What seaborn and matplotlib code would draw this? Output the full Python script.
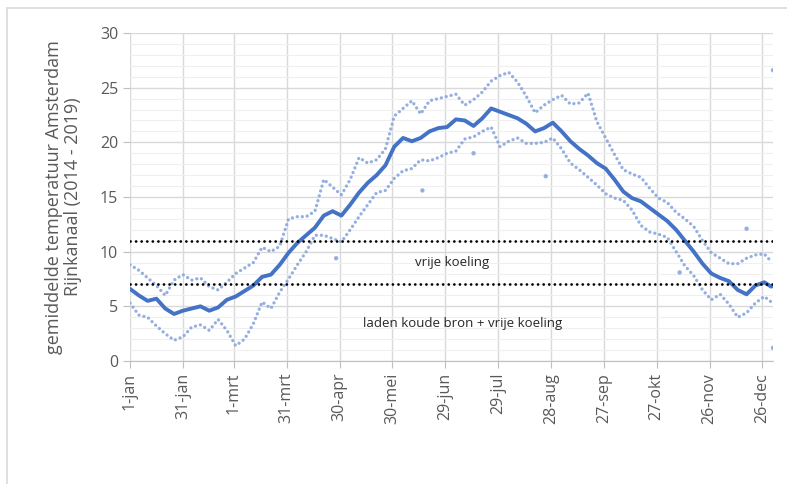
import matplotlib
matplotlib.use("Agg")
import matplotlib.pyplot as plt
import matplotlib.patches as mpatches
from matplotlib.ticker import MultipleLocator
import seaborn as sns
import pandas as pd

# day of year (0 = 1-jan), every 5 days
days = list(range(0, 365, 5)) + [364]

mean_temp = [6.6, 6.0, 5.5, 5.7, 4.8, 4.3, 4.6, 4.8, 5.0, 4.6,
             4.9, 5.6, 5.9, 6.4, 6.9, 7.7, 7.9, 8.8, 9.9, 10.8,
             11.5, 12.2, 13.3, 13.7, 13.3, 14.3, 15.4, 16.3, 17.0, 17.9,
             19.6, 20.4, 20.1, 20.4, 21.0, 21.3, 21.4, 22.1, 22.0, 21.5,
             22.2, 23.1, 22.8, 22.5, 22.2, 21.7, 21.0, 21.3, 21.8, 21.0,
             20.1, 19.4, 18.8, 18.1, 17.6, 16.6, 15.5, 14.9, 14.6, 14.0,
             13.4, 12.8, 12.0, 11.0, 10.0, 8.9, 8.0, 7.6, 7.3, 6.5,
             6.1, 6.9, 7.2, 6.8]

upper_temp = [8.8, 8.3, 7.6, 6.9, 6.0, 7.4, 7.9, 7.4, 7.6, 6.8,
              6.5, 7.2, 8.0, 8.5, 9.0, 10.4, 10.0, 10.5, 13.0, 13.2,
              13.2, 13.7, 16.6, 15.9, 15.2, 16.6, 18.6, 18.1, 18.4, 19.4,
              22.4, 23.1, 23.8, 22.6, 23.8, 24.0, 24.2, 24.4, 23.4, 23.9,
              24.6, 25.6, 26.1, 26.4, 25.5, 24.2, 22.7, 23.4, 23.9, 24.3,
              23.5, 23.6, 24.5, 21.9, 20.4, 18.9, 17.5, 17.1, 16.8, 15.8,
              14.9, 14.5, 13.6, 13.0, 12.3, 11.0, 9.9, 9.4, 8.9, 8.9,
              9.4, 9.7, 9.8, 9.1]

lower_temp = [5.3, 4.2, 4.0, 3.2, 2.5, 1.9, 2.2, 3.1, 3.3, 2.8,
              3.8, 2.8, 1.4, 2.0, 3.4, 5.4, 4.8, 6.3, 7.5, 8.8,
              10.0, 11.5, 11.5, 11.2, 10.9, 12.0, 13.2, 14.3, 15.4, 15.6,
              16.7, 17.4, 17.6, 18.4, 18.3, 18.6, 19.0, 19.2, 20.3, 20.5,
              21.0, 21.4, 19.6, 20.1, 20.4, 19.9, 19.9, 20.0, 20.4, 19.4,
              18.1, 17.5, 16.8, 16.1, 15.3, 14.9, 14.7, 13.8, 12.4, 11.8,
              11.6, 11.3, 10.0, 8.7, 7.8, 6.5, 5.6, 6.1, 5.2, 4.0,
              4.4, 5.3, 5.9, 5.4]

# loose points outside the bands
outlier_days = [117, 166, 195, 236, 312, 350, 365, 365]
outlier_vals = [9.4, 15.6, 19.0, 16.9, 8.1, 12.1, 26.6, 1.2]

tick_days = [0, 30, 59, 89, 119, 149, 179, 209, 239, 269, 299, 329, 359]
tick_labels = ["1-jan", "31-jan", "1-mrt", "31-mrt", "30-apr", "30-mei", "29-jun",
               "29-jul", "28-aug", "27-sep", "27-okt", "26-nov", "26-dec"]

limits = [11, 7]

df = pd.DataFrame({"dag": days, "gem": mean_temp, "max": upper_temp, "min": lower_temp})

sns.set_style("white")
plt.rcParams["font.family"] = ["Open Sans", "DejaVu Sans"]

fig = plt.figure(figsize=(7.87, 4.84), dpi=100)
ax = fig.add_axes([130 / 787, 1 - 361 / 484, 643 / 787, 328 / 484])

light = "#8AA8DC"
dark = "#4472C4"

for col in ["max", "min"]:
    sns.lineplot(data=df, x="dag", y=col, ax=ax, color=light, lw=2.4,
                 dashes=[(0.01, 1.5)], style=[0] * len(df), legend=False,
                 dash_capstyle="round", alpha=0.9)
sns.scatterplot(x=outlier_days, y=outlier_vals, ax=ax, color=light, s=10,
                edgecolor="none", alpha=0.9)
sns.lineplot(data=df, x="dag", y="gem", ax=ax, color=dark, lw=2.8)

for lim in limits:
    ax.axhline(lim, color="black", lw=2.0, ls=(0, (0.01, 2.0)),
               dash_capstyle="round", zorder=5)

ax.text(183, 9.0, "vrije koeling", fontsize=9.5, color="#262626", ha="center", va="center")
ax.text(189, 3.4, "laden koude bron + vrije koeling", fontsize=9.5, color="#262626",
        ha="center", va="center")

ax.set_xlim(0, 365)
ax.set_ylim(0, 30)
ax.set_xticks(tick_days)
ax.set_xticklabels(tick_labels, rotation=90)
ax.yaxis.set_major_locator(MultipleLocator(5))
ax.yaxis.set_minor_locator(MultipleLocator(1))
ax.grid(which="major", color="#d9d9d9", lw=1)
ax.grid(which="minor", axis="y", color="#efefef", lw=0.8)
ax.set_axisbelow(True)

for s in ["top", "right", "left"]:
    ax.spines[s].set_visible(False)
ax.spines["bottom"].set_color("#bfbfbf")
ax.tick_params(axis="both", which="major", colors="#595959", labelsize=11.5,
               length=5, color="#bfbfbf", left=True, bottom=True)
ax.tick_params(axis="y", which="minor", left=False)

ax.set_xlabel("")
ax.set_ylabel("gemiddelde temperatuur Amsterdam\nRijnkanaal (2014 - 2019)",
              fontsize=13, color="#595959", linespacing=1.05)
ax.yaxis.set_label_coords(-0.075, 0.5)

# outer chart frame
fig.patches.append(mpatches.Rectangle((7 / 787, -0.05), 1.2, 1 - 8 / 484 + 0.05,
                                      transform=fig.transFigure, fill=False,
                                      edgecolor="#d9d9d9", lw=1.2))

fig.savefig("out.png", dpi=100)
